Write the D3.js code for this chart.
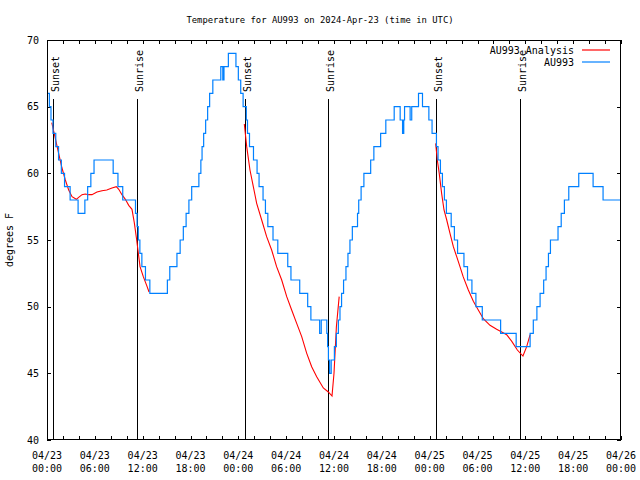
<!DOCTYPE html>
<html>
<head>
<meta charset="utf-8">
<script src="https://cdn.jsdelivr.net/npm/d3@7"></script>
<style>
  html, body { margin: 0; padding: 0; background: #fff; }
  svg { display: block; }
  text { font-family: "DejaVu Sans Mono", monospace; font-size: 10px; fill: #000; }
</style>
</head>
<body>
<svg id="chart" width="640" height="480"></svg>
<script>
// ---------------- DATA ----------------
const titleText = "Temperature for AU993 on 2024-Apr-23 (time in UTC)";
const yLabel = "degrees F";
const seriesNames = ["AU993 Analysis", "AU993"];

// Observed AU993 (hours since 2024-04-23 00:00 UTC, deg F), value holds from each time on
const obsHours = [0,0.3,0.5,0.75,1.1,1.45,1.8,2.2,2.9,3.9,4.75,5.1,5.5,5.9,8.3,8.9,9.5,11.1,11.3,11.45,11.65,11.9,12.35,12.9,
  15.1,15.4,16.3,16.7,17.1,17.45,17.8,18.15,19.05,19.3,19.45,19.65,19.9,20.15,20.4,20.8,21.8,22.05,22.2,22.75,
  23.7,24.0,24.3,24.6,25.0,25.15,25.4,25.9,26.35,26.6,27.1,27.4,27.7,28.35,28.95,30.2,30.6,31.7,32.7,33.1,34.2,34.4,
  35.1,35.2,35.3,35.45,35.65,36.05,36.3,36.55,36.75,36.95,37.2,37.5,37.75,38.0,38.3,38.95,39.1,39.4,39.75,40.6,41.0,
  41.85,42.5,43.55,44.3,44.6,44.75,44.85,45.55,45.75,46.6,47.1,47.9,48.3,48.85,49.05,49.35,49.6,49.85,50.1,50.7,51.1,
  51.5,52.3,52.75,53.3,53.8,54.6,56.9,58.85,60.6,61.0,61.45,61.85,62.3,62.6,62.9,63.15,64.1,64.5,64.9,65.45,66.7,
  68.5,69.75,72];
const obsTemps = [66,65,64,63,62,61,60,59,58,57,58,59,60,61,60,59,58,57,56,55,54,53,52,51,
  52,53,54,55,56,57,58,59,60,61,62,63,64,65,66,67,68,67,68,69,
  68,67,66,65,64,63,62,61,60,59,58,57,56,55,54,53,52,51,50,49,48,49,
  48,47,46,45,46,47,48,49,50,51,52,53,54,55,56,57,58,59,60,61,62,
  63,64,65,64,63,64,65,64,65,66,65,64,63,62,61,60,59,58,57,56,55,
  54,53,52,51,50,49,48,47,48,49,50,51,52,53,54,55,56,57,58,59,60,
  59,58,58];

// AU993 Analysis (three night-time segments, null = gap)
const anaHours = [0.6,1.05,1.46,1.88,2.3,2.72,3.14,3.68,3.97,4.39,4.8,5.23,5.64,6.27,6.9,7.5,8.15,8.7,9.0,9.4,9.83,10.25,
  10.66,10.95,11.25,11.46,11.67,12.08,12.5,12.8, null,
  24.75,25.05,25.46,25.88,26.3,26.93,27.55,28.18,28.8,29.44,30.07,30.69,31.32,31.95,32.58,33.2,33.83,34.66,35.29,35.75,
  36.0,36.3,36.65, null,
  48.75,48.96,49.2,49.5,49.8,50.14,50.55,50.97,51.39,51.8,52.2,52.85,53.48,54.1,54.73,55.57,56.4,57.04,57.66,58.3,
  59.0,59.7,60.17,60.6];
const anaTemps = [63.8,62.6,61.5,60.4,59.5,58.75,58.25,58.05,58.2,58.4,58.45,58.4,58.4,58.6,58.7,58.75,58.9,59.0,58.8,58.4,58.05,57.6,
  57.3,56.3,55,54,53,52.25,51.6,51.1, null,
  63.7,62,60.25,59,57.75,56.5,55.25,54.25,53,52,50.75,49.75,48.75,47.75,46.5,45.5,44.75,43.9,43.6,43.3,
  45,48.5,50.75, null,
  62.25,61,60,58.5,57.25,56.5,55.5,54.5,53.75,53,52.25,51.25,50.4,49.75,49.1,48.6,48.3,48.1,47.9,47.4,
  46.75,46.3,47,47.9];

// Sunset / sunrise markers
const sunLabels = ["Sunset","Sunrise","Sunset","Sunrise","Sunset","Sunrise"];
const sunHours  = [0.78, 11.32, 24.78, 35.28, 48.82, 59.33];

const yTicks = [40,45,50,55,60,65,70];
const xTickStepHours = 2;
const xLabelStepHours = 6;

// ---------------- DRAW ----------------
const W = 640, H = 480;
const m = {left: 47, right: 621, top: 40, bottom: 440};
const t0 = Date.UTC(2024, 3, 23, 0, 0, 0);
const toDate = h => new Date(t0 + h * 3600e3);

const svg = d3.select("#chart");
svg.append("rect").attr("width", W).attr("height", H).attr("fill", "#fff");

const x = d3.scaleUtc().domain([toDate(0), toDate(72)]).range([m.left, m.right]);
const y = d3.scaleLinear().domain([40, 70]).range([m.bottom, m.top]);

// Title
svg.append("text").attr("x", 320).attr("y", 23).attr("text-anchor", "middle")
  .style("font-size", "8.9px").text(titleText);

// Y label
svg.append("text").attr("transform", "translate(13,240) rotate(-90)")
  .attr("text-anchor", "middle").text(yLabel);

// Ticks
const tickDates = d3.range(0, 72 + 0.001, xTickStepHours).map(toDate);
const labelDates = d3.range(0, 72 + 0.001, xLabelStepHours).map(toDate);

const styleAxis = g => {
  g.select(".domain").remove();
  g.selectAll(".tick line").attr("stroke", "#000").attr("shape-rendering", "crispEdges");
  g.selectAll("text").attr("font-family", "DejaVu Sans Mono").attr("font-size", 10).attr("fill", "#000");
};

svg.append("g").attr("transform", `translate(0,${m.bottom})`)
  .call(d3.axisBottom(x).tickValues(tickDates).tickSize(-4).tickFormat("")).call(styleAxis);
svg.append("g").attr("transform", `translate(0,${m.top})`)
  .call(d3.axisTop(x).tickValues(tickDates).tickSize(-4).tickFormat("")).call(styleAxis);
svg.append("g").attr("transform", `translate(${m.left},0)`)
  .call(d3.axisLeft(y).tickValues(yTicks).tickSize(-4).tickPadding(8).tickFormat(d3.format("d"))).call(styleAxis);
svg.append("g").attr("transform", `translate(${m.right},0)`)
  .call(d3.axisRight(y).tickValues(yTicks).tickSize(-4).tickFormat("")).call(styleAxis);

const fmtDay = d3.utcFormat("%m/%d"), fmtTime = d3.utcFormat("%H:%M");
const xl = svg.append("g").selectAll("text").data(labelDates).join("text")
  .attr("text-anchor", "middle");
xl.append("tspan").attr("x", d => x(d)).attr("y", m.bottom + 19).text(d => fmtDay(d));
xl.append("tspan").attr("x", d => x(d)).attr("y", m.bottom + 32).text(d => fmtTime(d));

// Sun lines
const sun = svg.append("g");
sunHours.forEach((h, i) => {
  const sx = Math.round(x(toDate(h))) + 0.5;
  sun.append("line").attr("x1", sx).attr("x2", sx).attr("y1", 99).attr("y2", m.bottom)
    .attr("stroke", "#000").attr("stroke-width", 1).attr("shape-rendering", "crispEdges");
  sun.append("text").attr("transform", `translate(${sx + 5},92) rotate(-90)`)
    .attr("text-anchor", "start").text(sunLabels[i]);
});

// Analysis line
const anaData = anaHours.map((h, i) => ({h, v: anaTemps[i]}));
const anaLine = d3.line().defined(d => d.h !== null && d.v !== null)
  .x(d => x(toDate(d.h))).y(d => y(d.v));
svg.append("path").datum(anaData).attr("d", anaLine)
  .attr("fill", "none").attr("stroke", "#ff0000").attr("stroke-width", 1.1);

// Observed line
const obsData = obsHours.map((h, i) => ({h, v: obsTemps[i]}));
const obsLine = d3.line().curve(d3.curveStepAfter).x(d => x(toDate(d.h))).y(d => y(d.v));
svg.append("path").datum(obsData).attr("d", obsLine)
  .attr("fill", "none").attr("stroke", "#0080ff").attr("stroke-width", 1.2);

// Border
svg.append("rect").attr("x", m.left + 0.5).attr("y", m.top + 0.5)
  .attr("width", m.right - m.left - 1).attr("height", m.bottom - m.top - 1)
  .attr("fill", "none").attr("stroke", "#000").attr("shape-rendering", "crispEdges");

// Legend
const legColors = ["#ff0000", "#0080ff"];
seriesNames.forEach((name, i) => {
  const ly = 50 + i * 12;
  svg.append("text").attr("x", 574).attr("y", ly + 3.5).attr("text-anchor", "end").text(name);
  svg.append("line").attr("x1", 582).attr("x2", 610).attr("y1", ly).attr("y2", ly)
    .attr("stroke", legColors[i]).attr("stroke-width", 1.2);
});
</script>
</body>
</html>
